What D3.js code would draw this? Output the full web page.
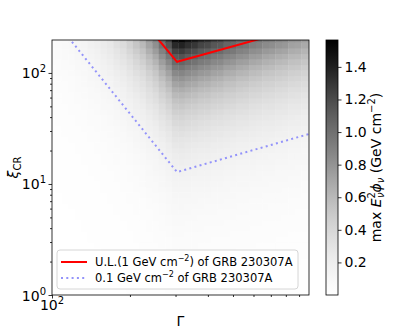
<!DOCTYPE html>
<html>
<head>
<meta charset="utf-8">
<script src="https://cdn.jsdelivr.net/npm/d3@7"></script>
<style>
body { margin: 0; background: #fff; }
text { font-family: "DejaVu Sans", sans-serif; fill: #000; }
</style>
</head>
<body>
<script>
// Gamma grid (column centres) of the scan
var gammaGrid = [100, 106, 112, 119, 126, 133, 141, 150, 158, 168, 178, 188, 200, 211, 224, 237,
                 251, 266, 282, 299, 316, 335, 355, 376, 398, 422, 447, 473, 501, 531, 562, 596,
                 631, 668, 708, 750, 794, 841, 891, 944, 1000];
// max E^2 phi (GeV cm^-2) read along the top row (xi_CR = 200) for every column
var fluxTop = [0.07, 0.08, 0.095, 0.11, 0.135, 0.15, 0.185, 0.21, 0.255, 0.29, 0.35, 0.40, 0.48, 0.57,
               0.65, 0.78, 0.90, 1.08, 1.25, 1.49, 1.53, 1.46, 1.42, 1.35, 1.32, 1.25, 1.23, 1.16,
               1.14, 1.08, 1.06, 1.00, 0.98, 0.93, 0.91, 0.87, 0.85, 0.80, 0.79, 0.75, 0.73];
// xi_CR grid (row centres)
var xiGrid = [1, 1.12, 1.26, 1.41, 1.58, 1.78, 2, 2.24, 2.51, 2.82, 3.16, 3.55, 3.98, 4.47, 5.01, 5.62,
              6.31, 7.08, 7.94, 8.91, 10, 11.2, 12.6, 14.1, 15.8, 17.8, 20, 22.4, 25.1, 28.2, 31.6,
              35.5, 39.8, 44.7, 50.1, 56.2, 63.1, 70.8, 79.4, 89.1, 100, 112, 126, 141, 158, 178, 200];
// relative flux down the peak column (1 at the top row)
var rowScale = [0.0144, 0.0158, 0.0173, 0.019, 0.0208, 0.0229, 0.0251, 0.0275, 0.0301, 0.033, 0.0362,
                0.0397, 0.0436, 0.0478, 0.0524, 0.0574, 0.063, 0.069, 0.0757, 0.083, 0.091, 0.0998,
                0.109, 0.12, 0.132, 0.144, 0.158, 0.173, 0.19, 0.208, 0.229, 0.251, 0.275, 0.301,
                0.33, 0.362, 0.397, 0.436, 0.478, 0.524, 0.574, 0.63, 0.69, 0.757, 0.83, 0.91, 1.0];

// limit curves
var ulGamma = [230, 304, 700];
var ulXi = [274, 126, 216];
var tenthGamma = [100, 304, 983];
var tenthXi = [319, 12.8, 28.2];

// ticks
var xMajor = [100];
var xMinor = [200, 300, 400, 500, 600, 700, 800, 900];
var yMajor = [1, 10, 100];
var yMinor = [2, 3, 4, 5, 6, 7, 8, 9, 20, 30, 40, 50, 60, 70, 80, 90];
var cTicks = [0.2, 0.4, 0.6, 0.8, 1.0, 1.2, 1.4];
var cMax = 1.565;

var width = 415, height = 332;
var pL = 52, pR = 309, pT = 40, pB = 295;

var x = d3.scaleLog().domain([100, 983]).range([pL, pR]);
var y = d3.scaleLog().domain([1, 198]).range([pB, pT]);
var color = d3.scaleSequential(d3.interpolateGreys).domain([0, cMax]);

var svg = d3.select("body")
            .append("svg")
            .attr("width", width)
            .attr("height", height);

svg.append("clipPath")
   .attr("id", "plotclip")
   .append("rect")
   .attr("x", pL).attr("y", pT)
   .attr("width", pR - pL).attr("height", pB - pT);

// cell edges halfway (in log) between centres
function edges(c) {
    var e = [c[0] / Math.sqrt(c[1] / c[0])];
    for (var i = 0; i < c.length - 1; i++) e.push(Math.sqrt(c[i] * c[i + 1]));
    e.push(c[c.length - 1] * Math.sqrt(c[c.length - 1] / c[c.length - 2]));
    return e;
}
var gx = edges(gammaGrid);
var gy = edges(xiGrid);

var cells = [];
gammaGrid.forEach(function(g, i) {
    xiGrid.forEach(function(xi, j) {
        cells.push({i: i, j: j, v: fluxTop[i] * rowScale[j]});
    });
});

var heat = svg.append("g").attr("clip-path", "url(#plotclip)");
heat.selectAll("rect")
    .data(cells)
    .enter()
    .append("rect")
    .attr("x", function(d) { return x(gx[d.i]); })
    .attr("width", function(d) { return x(gx[d.i + 1]) - x(gx[d.i]) + 0.4; })
    .attr("y", function(d) { return y(gy[d.j + 1]); })
    .attr("height", function(d) { return y(gy[d.j]) - y(gy[d.j + 1]) + 0.4; })
    .attr("fill", function(d) { return color(Math.min(d.v, cMax)); });

var line = d3.line()
             .x(function(d) { return x(d[0]); })
             .y(function(d) { return y(d[1]); });

var lines = svg.append("g").attr("clip-path", "url(#plotclip)");
lines.append("path")
     .attr("d", line(d3.zip(ulGamma, ulXi)))
     .attr("fill", "none")
     .attr("stroke", "#ff0000")
     .attr("stroke-width", 2);
lines.append("path")
     .attr("d", line(d3.zip(tenthGamma, tenthXi)))
     .attr("fill", "none")
     .attr("stroke", "#9393fa")
     .attr("stroke-width", 2)
     .attr("stroke-dasharray", "2,3.3");

// frame
svg.append("rect")
   .attr("x", pL).attr("y", pT)
   .attr("width", pR - pL).attr("height", pB - pT)
   .attr("fill", "none")
   .attr("stroke", "#000")
   .attr("stroke-width", 0.8);

// axes ticks
function tickAxis(axis, vals, size, tr) {
    var g = svg.append("g")
               .attr("transform", tr)
               .call(axis.tickValues(vals).tickSize(size).tickFormat(""));
    g.select(".domain").remove();
    g.selectAll("line").attr("stroke", "#000").attr("stroke-width", 0.8);
    return g;
}
tickAxis(d3.axisBottom(x), xMajor, 3.5, "translate(0," + pB + ")");
tickAxis(d3.axisBottom(x), xMinor, 2, "translate(0," + pB + ")");
tickAxis(d3.axisLeft(y), yMajor, 3.5, "translate(" + pL + ",0)");
tickAxis(d3.axisLeft(y), yMinor.filter(function(v) { return v < 198; }), 2, "translate(" + pL + ",0)");

function powLabel(sel, v) {
    var e = Math.round(Math.log10(v));
    sel.append("tspan").text("10");
    sel.append("tspan").attr("dy", -6).attr("font-size", "10px").text(e);
}

svg.selectAll(".ylab")
   .data(yMajor)
   .enter()
   .append("text")
   .attr("class", "ylab")
   .attr("x", 46)
   .attr("y", function(d) { return y(d) + 5.5; })
   .attr("text-anchor", "end")
   .attr("font-size", "14px")
   .each(function(d) { powLabel(d3.select(this), d); });

svg.selectAll(".xlab")
   .data(xMajor)
   .enter()
   .append("text")
   .attr("class", "xlab")
   .attr("x", function(d) { return x(d); })
   .attr("y", 310)
   .attr("text-anchor", "middle")
   .attr("font-size", "14px")
   .each(function(d) { powLabel(d3.select(this), d); });

// axis titles
svg.append("text")
   .attr("x", (pL + pR) / 2)
   .attr("y", 326)
   .attr("text-anchor", "middle")
   .attr("font-size", "14px")
   .text("\u0393");

var yt = svg.append("text")
            .attr("transform", "translate(18," + ((pT + pB) / 2) + ") rotate(-90)")
            .attr("text-anchor", "middle")
            .attr("font-size", "14px");
yt.append("tspan").attr("font-style", "italic").text("\u03be");
yt.append("tspan").attr("dy", 3).attr("font-size", "10px").text("CR");

// legend
var leg = svg.append("g");
leg.append("rect")
   .attr("x", 57).attr("y", 250)
   .attr("width", 241).attr("height", 39)
   .attr("rx", 3)
   .attr("fill", "#fff").attr("fill-opacity", 0.8)
   .attr("stroke", "#cccccc").attr("stroke-width", 0.8);
leg.append("line")
   .attr("x1", 61).attr("x2", 87).attr("y1", 262).attr("y2", 262)
   .attr("stroke", "#ff0000").attr("stroke-width", 2);
leg.append("line")
   .attr("x1", 61).attr("x2", 87).attr("y1", 278).attr("y2", 278)
   .attr("stroke", "#9393fa").attr("stroke-width", 2)
   .attr("stroke-dasharray", "2,3.3");

var t1 = leg.append("text").attr("x", 95).attr("y", 265.5).attr("font-size", "11.5px");
t1.append("tspan").text("U.L.(1 GeV cm");
t1.append("tspan").attr("dy", -4.5).attr("font-size", "8px").text("\u22122");
t1.append("tspan").attr("dy", 4.5).text(") of GRB 230307A");
var t2 = leg.append("text").attr("x", 95).attr("y", 281.5).attr("font-size", "11.5px");
t2.append("tspan").text("0.1 GeV cm");
t2.append("tspan").attr("dy", -4.5).attr("font-size", "8px").text("\u22122");
t2.append("tspan").attr("dy", 4.5).text(" of GRB 230307A");

// colorbar
var cbL = 326, cbW = 12;
var cy = d3.scaleLinear().domain([0, cMax]).range([pB, pT]);
var grad = svg.append("defs")
              .append("linearGradient")
              .attr("id", "cbgrad")
              .attr("x1", 0).attr("y1", 1).attr("x2", 0).attr("y2", 0);
d3.range(0, 1.0001, 0.05).forEach(function(t) {
    grad.append("stop")
        .attr("offset", t)
        .attr("stop-color", color(t * cMax));
});
svg.append("rect")
   .attr("x", cbL).attr("y", pT)
   .attr("width", cbW).attr("height", pB - pT)
   .attr("fill", "url(#cbgrad)")
   .attr("stroke", "#000")
   .attr("stroke-width", 0.8);

var cax = svg.append("g")
             .attr("transform", "translate(" + (cbL + cbW) + ",0)")
             .call(d3.axisRight(cy).tickValues(cTicks).tickSize(3.5).tickPadding(3)
                   .tickFormat(d3.format(".1f")));
cax.select(".domain").remove();
cax.selectAll("line").attr("stroke", "#000").attr("stroke-width", 0.8);
cax.selectAll("text")
   .attr("font-size", "14px")
   .attr("font-family", "DejaVu Sans, sans-serif")
   .attr("fill", "#000");

var ct = svg.append("text")
            .attr("transform", "translate(381," + ((pT + pB) / 2) + ") rotate(-90)")
            .attr("text-anchor", "middle")
            .attr("font-size", "14px");
ct.append("tspan").text("max ");
ct.append("tspan").attr("font-style", "italic").text("E");
ct.append("tspan").attr("dy", -6).attr("font-size", "10px").text("2");
ct.append("tspan").attr("dx", -6).attr("dy", 9).attr("font-size", "10px").attr("font-style", "italic").text("\u03bd");
ct.append("tspan").attr("dy", -3).attr("font-style", "italic").text("\u03d5");
ct.append("tspan").attr("dy", 3).attr("font-size", "10px").attr("font-style", "italic").text("\u03bd");
ct.append("tspan").attr("dy", -3).text(" (GeV cm");
ct.append("tspan").attr("dy", -6).attr("font-size", "10px").text("\u22122");
ct.append("tspan").attr("dy", 6).text(")");
</script>
</body>
</html>
